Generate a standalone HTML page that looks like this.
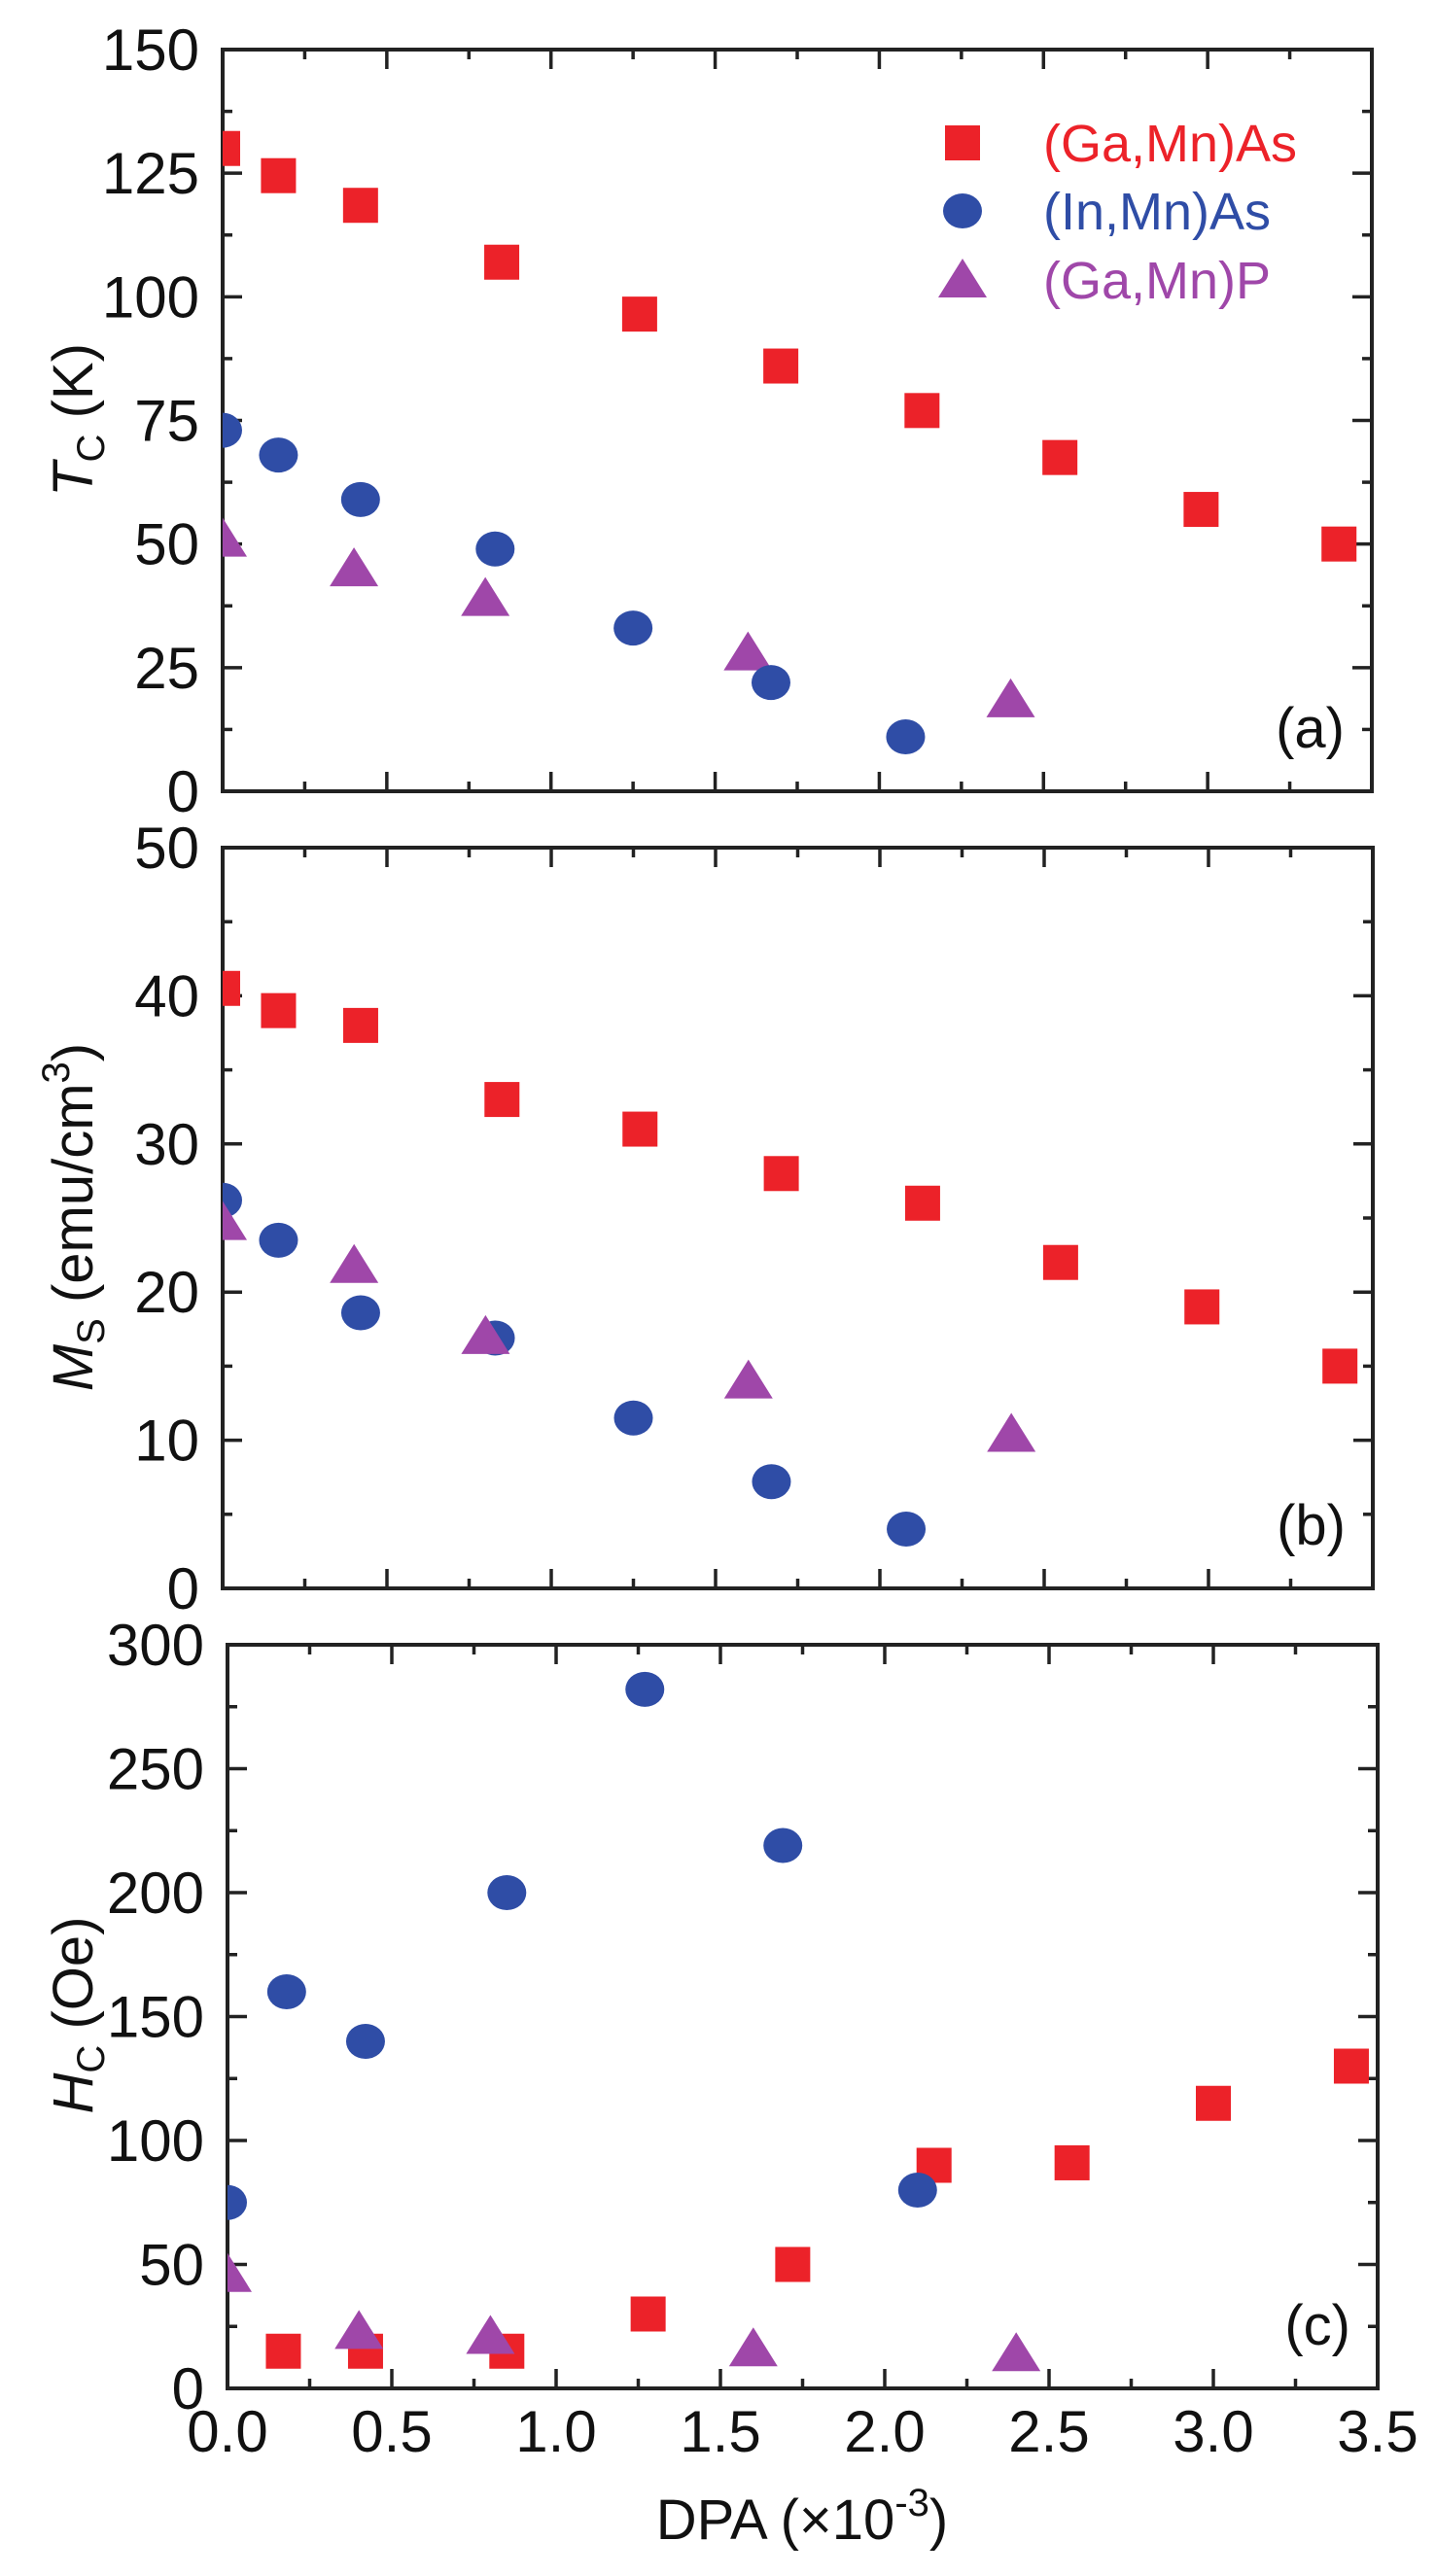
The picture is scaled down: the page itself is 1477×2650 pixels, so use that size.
<!DOCTYPE html>
<html><head><meta charset="utf-8"><style>
html,body{margin:0;padding:0;background:#fff}
svg{display:block;font-family:"Liberation Sans",sans-serif}
</style></head><body>
<svg id="fig" width="1477" height="2650" viewBox="0 0 1477 2650" xmlns="http://www.w3.org/2000/svg">
<g id="g"></g>
</svg>
<script>
// data arrays
const xGaMnAs = [0, 0.17, 0.42, 0.85, 1.27, 1.70, 2.13, 2.55, 2.98, 3.40];
const xInMnAs = [0, 0.17, 0.42, 0.83, 1.25, 1.67, 2.08];
const xGaMnP = [0, 0.40, 0.80, 1.60, 2.40];
const tcGaMnAs = [130, 124.5, 118.5, 107, 96.5, 86, 77, 67.5, 57, 50];
const tcInMnAs = [73, 68, 59, 49, 33, 22, 11];
const tcGaMnP = [51, 45, 39, 28, 18.5];
const msGaMnAs = [40.5, 39, 38, 33, 31, 28, 26, 22, 19, 15];
const msInMnAs = [26.2, 23.5, 18.6, 16.9, 11.5, 7.2, 4];
const msGaMnP = [24.7, 21.8, 17, 14, 10.4];
const xHcGaMnAs = [0.17, 0.42, 0.85, 1.28, 1.72, 2.15, 2.57, 3.0, 3.42];
const hcGaMnAs = [15, 15, 15, 30, 50, 90, 91, 115, 130];
const xHcInMnAs = [0, 0.18, 0.42, 0.85, 1.27, 1.69, 2.10];
const hcInMnAs = [75, 160, 140, 200, 282, 219, 80];
const hcGaMnP = [46, 23, 21, 16, 14];
const xTicks = ["0.0","0.5","1.0","1.5","2.0","2.5","3.0","3.5"];
const tcTicks = [0,25,50,75,100,125,150];
const msTicks = [0,10,20,30,40,50];
const hcTicks = [0,50,100,150,200,250,300];

const RED="#ec2229", BLUE="#2f4da6", PURP="#9f47a9";
const NS="http://www.w3.org/2000/svg";
const G=document.getElementById('g');
function mk(tag,attrs,parent){const e=document.createElementNS(NS,tag);for(const k in attrs)e.setAttribute(k,attrs[k]);(parent||G).appendChild(e);return e;}

const panels=[
 {name:'tc',L:229,R:1411,T:51,B:814,ymax:150,yt:tcTicks,minor:12.5,lab:'(a)'},
 {name:'ms',L:229,R:1412,T:872,B:1634,ymax:50,yt:msTicks,minor:5,lab:'(b)'},
 {name:'hc',L:234,R:1417,T:1692,B:2457,ymax:300,yt:hcTicks,minor:25,lab:'(c)'}
];
panels.forEach(p=>{
 p.sx=v=>p.L+(p.R-p.L)*v/3.5;
 p.sy=v=>p.B-(p.B-p.T)*v/p.ymax;
 const g=mk('g',{});
 
 
 const fr=mk('rect',{x:p.L,y:p.T,width:p.R-p.L,height:p.B-p.T,fill:'none',stroke:'#222','stroke-width':4},g);
 
 
 // x ticks
 for(let i=0;i<=14;i++){const v=i*0.25;const x=p.sx(v);const len=i%2==0?20:10;
  mk('line',{x1:x,y1:p.B,x2:x,y2:p.B-len,stroke:'#222','stroke-width':3.5},g);
  mk('line',{x1:x,y1:p.T,x2:x,y2:p.T+len,stroke:'#222','stroke-width':3.5},g);}
 // y ticks
 const n=Math.round(p.ymax/p.minor);
 for(let i=0;i<=n;i++){const y=p.sy(i*p.minor);const len=i%2==0?20:10;
  mk('line',{x1:p.L,y1:y,x2:p.L+len,y2:y,stroke:'#222','stroke-width':3.5},g);
  mk('line',{x1:p.R,y1:y,x2:p.R-len,y2:y,stroke:'#222','stroke-width':3.5},g);}
 p.yt.forEach(v=>{const t=mk('text',{x:p.L-24,y:p.sy(v)+21,'text-anchor':'end','font-size':60,fill:'#111'},g);t.textContent=v;
  
  });
 const lt=mk('text',{x:p.R-28,y:p.B-45,'text-anchor':'end','font-size':58,fill:'#111'},g);lt.textContent=p.lab;
 
 
 p.g=g;
});
// x tick labels
const pc=panels[2];
xTicks.forEach(s=>{const t=mk('text',{x:pc.sx(parseFloat(s)),y:pc.B+65,'text-anchor':'middle','font-size':60,fill:'#111'});t.textContent=s;
 
 });

function sq(x,y,c,parent,name){const e=mk('rect',{x:x-18,y:y-18,width:36,height:36,fill:c},parent);
 
 }
function ci(x,y,c,parent,name){const e=mk('ellipse',{cx:x,cy:y,rx:20,ry:18,fill:c},parent);
 
 }
function tr(x,y,c,parent,name){const e=mk('polygon',{points:`${x},${y-22} ${x+25},${y+18} ${x-25},${y+18}`,fill:c},parent);
 
 }
function clipFor(p){const id='clip-'+p.name;const cp=mk('clipPath',{id:id});mk('rect',{x:p.L,y:p.T,width:p.R-p.L,height:p.B-p.T},cp);return 'url(#'+id+')';}
function series(p,xs,ys,fn,c,name){const g=mk('g',{'clip-path':clipFor(p)});
 
 
 xs.forEach((x,i)=>fn(p.sx(x),p.sy(ys[i]),c,g,name+'-point'));}
let pa=panels[0],pb=panels[1];
series(pa,xGaMnP,tcGaMnP,tr,PURP,'tc-gamnp');
series(pa,xInMnAs,tcInMnAs,ci,BLUE,'tc-inmnas');
series(pa,xGaMnAs,tcGaMnAs,sq,RED,'tc-gamnas');
series(pb,xInMnAs,msInMnAs,ci,BLUE,'ms-inmnas');
series(pb,xGaMnP,msGaMnP,tr,PURP,'ms-gamnp');
series(pb,xGaMnAs,msGaMnAs,sq,RED,'ms-gamnas');
series(pc,xHcGaMnAs,hcGaMnAs,sq,RED,'hc-gamnas');
series(pc,xGaMnP,hcGaMnP,tr,PURP,'hc-gamnp');
series(pc,xHcInMnAs,hcInMnAs,ci,BLUE,'hc-inmnas');

// legend
const lg=mk('g',{});


const legItems=[['(Ga,Mn)As',RED,sq,147],['(In,Mn)As',BLUE,ci,217],['(Ga,Mn)P',PURP,tr,288]];
legItems.forEach(it=>{it[2](990,it[3],it[1],lg,'legend-marker');
 const t=mk('text',{x:1073,y:it[3]+19,'font-size':54,fill:it[1]},lg);t.textContent=it[0];
 
 });
</script>
<g></g>
<svg width="0" height="0"></svg>
<script>
const svg=document.getElementById('fig');
function title(cx,cy,html,name){const t=document.createElementNS("http://www.w3.org/2000/svg",'text');
 t.setAttribute('transform',`translate(${cx},${cy}) rotate(-90)`);t.setAttribute('text-anchor','middle');
 t.setAttribute('font-size','58');t.setAttribute('fill','#111');t.innerHTML=html;
 
 
 svg.appendChild(t);}
title(95,432,'<tspan font-style="italic">T</tspan><tspan font-size="40" dy="12">C</tspan><tspan dy="-12"> (K)</tspan>','y-axis-title-tc');
title(95,1252,'<tspan font-style="italic">M</tspan><tspan font-size="40" dy="12">S</tspan><tspan dy="-12"> (emu/cm</tspan><tspan font-size="40" dy="-24">3</tspan><tspan dy="24">)</tspan>','y-axis-title-ms');
title(95,2073,'<tspan font-style="italic">H</tspan><tspan font-size="40" dy="12">C</tspan><tspan dy="-12"> (Oe)</tspan>','y-axis-title-hc');
const xt=document.createElementNS("http://www.w3.org/2000/svg",'text');
xt.setAttribute('x','825');xt.setAttribute('y','2612');xt.setAttribute('text-anchor','middle');xt.setAttribute('font-size','58');xt.setAttribute('fill','#111');
xt.innerHTML='DPA (×10<tspan font-size="40" dy="-24">-3</tspan><tspan dy="24">)</tspan>';


svg.appendChild(xt);
</script>
</body></html>
